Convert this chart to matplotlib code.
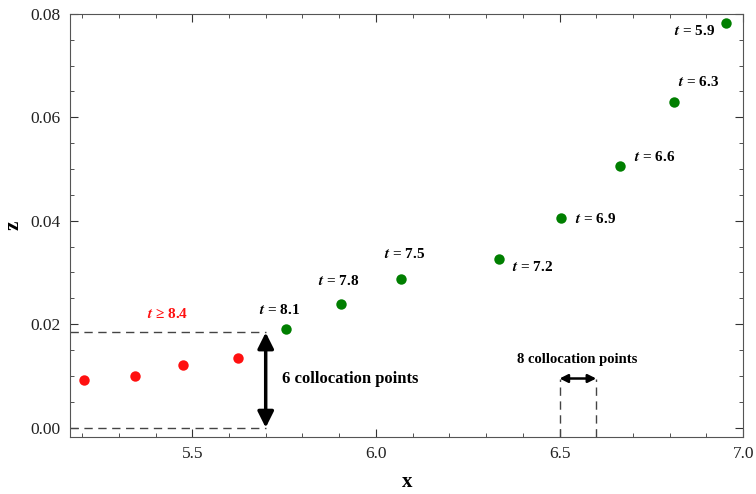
import matplotlib.pyplot as plt
from matplotlib.ticker import MultipleLocator

plt.rcParams['font.family'] = ['Liberation Serif', 'DejaVu Serif']
plt.rcParams['mathtext.fontset'] = 'stix'

# late-time points (red) and tracked points (green)
x_red = [5.204, 5.345, 5.474, 5.625]
z_red = [0.0092, 0.0099, 0.0121, 0.0135]
x_green = [5.754, 5.904, 6.069, 6.334, 6.505, 6.664, 6.812, 6.954]
z_green = [0.0190, 0.0239, 0.0288, 0.0326, 0.0406, 0.0505, 0.0630, 0.0783]
t_labels = ['8.1', '7.8', '7.5', '7.2', '6.9', '6.6', '6.3', '5.9']
label_pos = [(5.739, 0.0228), (5.898, 0.0284), (6.079, 0.0335), (6.427, 0.0311),
             (6.599, 0.0403), (6.758, 0.0524), (6.879, 0.0668), (6.867, 0.0766)]

fig = plt.figure(figsize=(7.56, 4.94), dpi=100)
ax = fig.add_axes([0.093, 0.116, 0.89, 0.856])

ax.plot(x_red, z_red, 'o', color='#ff1010', ms=7.5, mec='none')
ax.plot(x_green, z_green, 'o', color='#007f00', ms=7.5, mec='none')

for lab, (lx, lz) in zip(t_labels, label_pos):
    ax.text(lx, lz, r'$\mathbfit{t}$ = ' + lab, ha='center', va='center',
            fontsize=11, fontweight='bold')
ax.text(5.434, 0.0219, r'$\mathbfit{t}$ ≥ 8.4', ha='center', va='center',
        fontsize=11, fontweight='bold', color='#ff1010')

# 6 collocation points box
dash = dict(color='#444444', lw=1.0, ls=(0, (6, 4)))
ax.plot([5.168, 5.7], [0.0184, 0.0184], **dash)
ax.plot([5.168, 5.7], [0.0, 0.0], **dash)
ax.annotate('', xy=(5.7, 0.0184), xytext=(5.7, 0.0),
            arrowprops=dict(arrowstyle='<|-|>', color='black', lw=2.5, mutation_scale=24,
                            shrinkA=0, shrinkB=0))
ax.text(5.745, 0.0094, '6 collocation points', ha='left', va='center',
        fontsize=12, fontweight='bold')

# 8 collocation points
ax.plot([6.5, 6.5], [-0.0018, 0.0095], **dash)
ax.plot([6.6, 6.6], [-0.0018, 0.0095], **dash)
ax.annotate('', xy=(6.6, 0.0095), xytext=(6.5, 0.0095),
            arrowprops=dict(arrowstyle='<|-|>', color='black', lw=1.8, mutation_scale=12,
                            shrinkA=0, shrinkB=0))
ax.text(6.548, 0.0131, '8 collocation points', ha='center', va='center',
        fontsize=10.5, fontweight='bold')

ax.set_xlim(5.168, 7.0)
ax.set_ylim(-0.00175, 0.08)
ax.xaxis.set_major_locator(MultipleLocator(0.5))
ax.xaxis.set_minor_locator(MultipleLocator(0.1))
ax.yaxis.set_major_locator(MultipleLocator(0.02))
ax.yaxis.set_minor_locator(MultipleLocator(0.005))
ax.xaxis.set_major_formatter(plt.FormatStrFormatter('%.1f'))
ax.yaxis.set_major_formatter(plt.FormatStrFormatter('%.2f'))
ax.tick_params(which='both', direction='in', top=True, right=True, colors='#333333',
               labelcolor='#222222', labelsize=12.5)
ax.tick_params(which='major', length=6, pad=7)
ax.tick_params(which='minor', length=3)
for s in ax.spines.values():
    s.set_color('#555555')

ax.set_xlabel('x', fontsize=15, fontweight='bold', labelpad=7)
ax.set_ylabel('z', fontsize=15, fontweight='bold', labelpad=5)

plt.savefig('out.png', dpi=100)
